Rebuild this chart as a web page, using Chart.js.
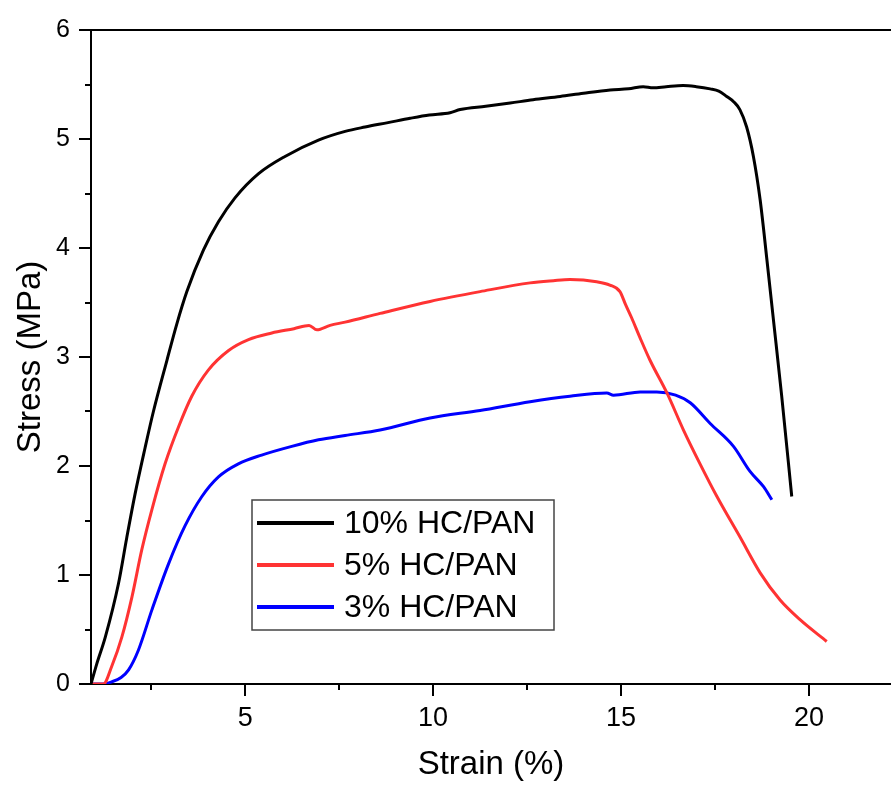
<!DOCTYPE html>
<html>
<head>
<meta charset="utf-8">
<script src="https://cdn.jsdelivr.net/npm/chart.js@4/dist/chart.umd.min.js"></script>
<style>
  html, body { margin: 0; padding: 0; background: #fff; }
</style>
</head>
<body>
<canvas id="c" width="891" height="785"></canvas>
<script>
// strain (%) / stress (MPa)
const strain10 = [0.9, 1.05, 1.28, 1.63, 1.85, 2.07, 2.34, 2.56, 2.92, 3.18, 3.45, 3.89, 4.29, 4.73, 5.35, 6.06, 6.95, 7.66, 8.19, 8.8, 9.39, 9.9, 10.45, 10.72, 11.4, 12.05, 12.66, 13.38, 14.0, 14.71, 15.2, 15.59, 15.85, 16.2, 16.65, 17.0, 17.37, 17.6, 17.81, 18.0, 18.16, 18.34, 18.52, 18.7, 18.88, 19.05, 19.27, 19.54];
const stress10 = [0, 0.18, 0.43, 0.92, 1.34, 1.74, 2.17, 2.5, 2.97, 3.3, 3.6, 3.98, 4.24, 4.46, 4.68, 4.84, 4.99, 5.07, 5.11, 5.15, 5.19, 5.22, 5.24, 5.27, 5.3, 5.33, 5.36, 5.39, 5.42, 5.45, 5.46, 5.48, 5.47, 5.48, 5.49, 5.48, 5.46, 5.44, 5.39, 5.34, 5.27, 5.11, 4.84, 4.44, 3.89, 3.35, 2.65, 1.72];

const strain5 = [0.9, 1.23, 1.45, 1.72, 1.99, 2.25, 2.52, 2.87, 3.23, 3.58, 4.02, 4.56, 5.09, 5.71, 6.3, 6.7, 6.91, 7.26, 7.66, 8.59, 9.92, 11.25, 12.58, 13.2, 13.64, 14.35, 14.7, 14.97, 15.12, 15.28, 15.5, 15.77, 16.22, 16.66, 17.1, 17.55, 18.16, 18.7, 19.23, 19.76, 20.47];
const stress5 = [0, 0, 0.16, 0.43, 0.8, 1.23, 1.6, 2.02, 2.36, 2.64, 2.88, 3.06, 3.16, 3.22, 3.26, 3.29, 3.25, 3.29, 3.32, 3.4, 3.51, 3.6, 3.68, 3.7, 3.71, 3.69, 3.66, 3.6, 3.48, 3.36, 3.18, 2.97, 2.67, 2.33, 2.02, 1.72, 1.35, 1.02, 0.77, 0.59, 0.39];

const strain3 = [0.9, 1.2, 1.45, 1.7, 1.9, 2.16, 2.52, 2.96, 3.4, 3.85, 4.29, 4.82, 5.44, 6.24, 6.95, 7.66, 8.59, 9.92, 11.25, 12.58, 13.64, 14.62, 14.8, 15.51, 15.95, 16.45, 16.84, 17.37, 17.99, 18.43, 18.79, 19.01];
const stress3 = [0, 0, 0.02, 0.06, 0.13, 0.31, 0.68, 1.1, 1.45, 1.72, 1.9, 2.02, 2.1, 2.18, 2.24, 2.28, 2.33, 2.44, 2.51, 2.59, 2.64, 2.67, 2.65, 2.68, 2.68, 2.65, 2.58, 2.39, 2.18, 1.95, 1.81, 1.69];

const seriesNames = ['10% HC/PAN', '5% HC/PAN', '3% HC/PAN'];
const seriesColors = ['#000000', '#ff3333', '#0000ff'];

const xMajor = [5, 10, 15, 20];
const xMinor = [2.5, 7.5, 12.5, 17.5];
const yMajor = [0, 1, 2, 3, 4, 5, 6];
const yMinor = [0.5, 1.5, 2.5, 3.5, 4.5, 5.5];

const FONT = "'Liberation Sans', Arial, sans-serif";

function pts(xs, ys) {
  return xs.map((x, i) => ({ x: x, y: ys[i] }));
}

// outward tick marks, top frame line and the boxed legend
const framePlugin = {
  id: 'frame',
  afterDraw(chart) {
    const ctx = chart.ctx;
    const area = chart.chartArea;
    const xs = chart.scales.x;
    const ys = chart.scales.y;
    ctx.save();
    ctx.strokeStyle = '#000';
    ctx.lineWidth = 2;
    ctx.beginPath();
    ctx.moveTo(area.left - 1, area.top);
    ctx.lineTo(area.right, area.top);
    const tick = (vals, len, horiz) => {
      vals.forEach(v => {
        if (horiz) {
          const p = Math.round(xs.getPixelForValue(v));
          ctx.moveTo(p, area.bottom);
          ctx.lineTo(p, area.bottom + len);
        } else {
          const p = Math.round(ys.getPixelForValue(v));
          ctx.moveTo(area.left, p);
          ctx.lineTo(area.left - len, p);
        }
      });
    };
    tick(xMajor, 12, true);
    tick(xMinor, 6, true);
    tick(yMajor, 12, false);
    tick(yMinor, 6, false);
    ctx.stroke();

    // legend
    const lx = area.left + 161, ly = area.top + 470, lw = 302, lh = 130;
    ctx.fillStyle = '#fff';
    ctx.fillRect(lx, ly, lw, lh);
    ctx.strokeStyle = '#444';
    ctx.lineWidth = 1.5;
    ctx.strokeRect(lx, ly, lw, lh);
    ctx.font = '32px ' + FONT;
    ctx.textBaseline = 'middle';
    ctx.textAlign = 'left';
    chart.data.datasets.forEach((ds, i) => {
      const cy = ly + 23 + i * 42;
      ctx.strokeStyle = ds.borderColor;
      ctx.lineWidth = 4;
      ctx.beginPath();
      ctx.moveTo(lx + 5, cy);
      ctx.lineTo(lx + 82, cy);
      ctx.stroke();
      ctx.fillStyle = '#000';
      ctx.fillText(ds.label, lx + 92, cy + 1);
    });
    ctx.restore();
  }
};

new Chart(document.getElementById('c'), {
  type: 'line',
  data: {
    datasets: [
      { label: seriesNames[0], data: pts(strain10, stress10), borderColor: seriesColors[0] },
      { label: seriesNames[1], data: pts(strain5, stress5), borderColor: seriesColors[1] },
      { label: seriesNames[2], data: pts(strain3, stress3), borderColor: seriesColors[2] }
    ]
  },
  options: {
    responsive: false,
    animation: false,
    devicePixelRatio: 1,
    layout: { padding: { top: 30, right: 0, left: 0, bottom: 0 } },
    elements: {
      point: { radius: 0 },
      line: { borderWidth: 3, cubicInterpolationMode: 'monotone', fill: false }
    },
    plugins: {
      legend: { display: false },
      tooltip: { enabled: false }
    },
    scales: {
      x: {
        type: 'linear',
        min: 0.9,
        max: 22.18,
        afterBuildTicks: s => { s.ticks = xMajor.map(v => ({ value: v })); },
        afterFit: s => { s.height = 101; s.paddingLeft = 0; s.paddingRight = 0; },
        grid: { display: false, drawTicks: false },
        border: { display: true, color: '#000', width: 2 },
        ticks: { color: '#000', font: { family: FONT, size: 27 }, padding: 18, maxRotation: 0 },
        title: { display: true, text: 'Strain (%)', color: '#000', font: { family: FONT, size: 33 }, padding: { top: 13, bottom: 0 } }
      },
      y: {
        min: 0,
        max: 6,
        afterBuildTicks: s => { s.ticks = yMajor.map(v => ({ value: v })); },
        afterFit: s => { s.width = 91; s.paddingTop = 0; s.paddingBottom = 0; },
        grid: { display: false, drawTicks: false },
        border: { display: true, color: '#000', width: 2 },
        ticks: { color: '#000', font: { family: FONT, size: 25 }, padding: 21 },
        title: { display: true, text: 'Stress (MPa)', color: '#000', font: { family: FONT, size: 33 }, padding: { top: 11, bottom: 0 } }
      }
    }
  },
  plugins: [framePlugin]
});
</script>
</body>
</html>
